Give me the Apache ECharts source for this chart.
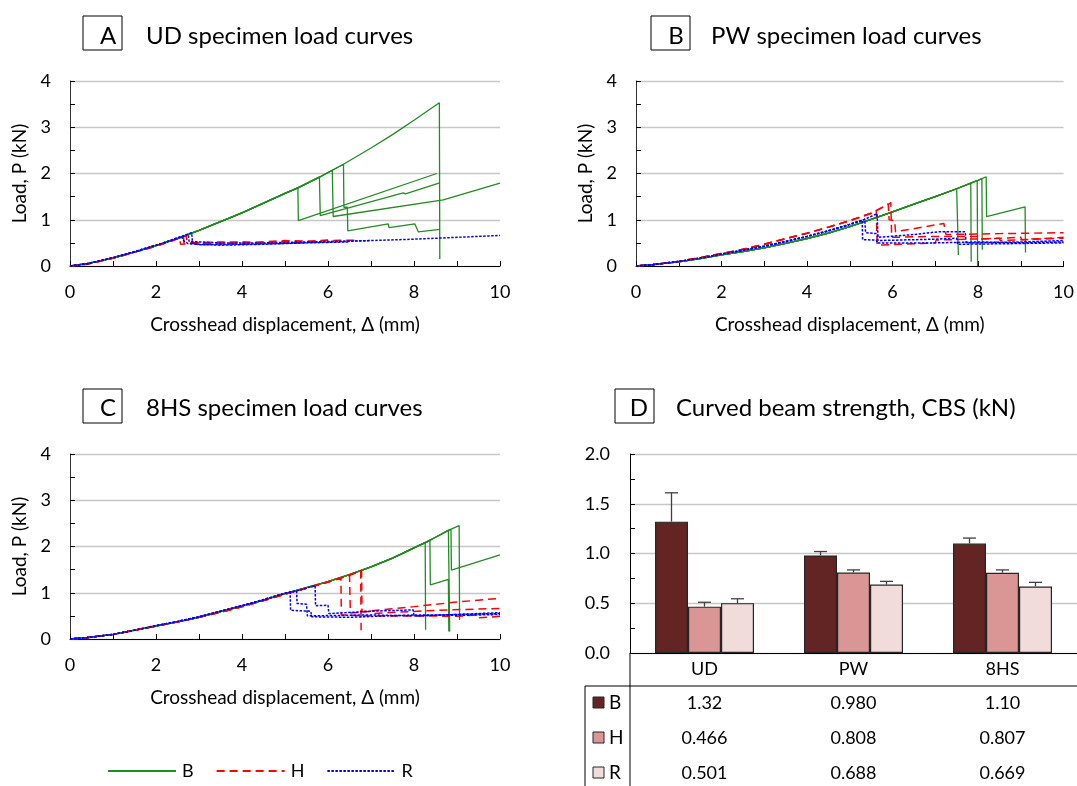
<!DOCTYPE html>
<html><head><meta charset="utf-8">
<script src="https://cdn.jsdelivr.net/npm/echarts@6/dist/echarts.min.js"></script>
<style>html,body{margin:0;padding:0;background:#fff}#c{width:1077px;height:786px}</style>
</head><body><div id="c"></div>
<script>
// ---------- Panel A (UD) ----------
const A_riseB = [[0,0],[0.4,0.05],[1,0.17],[1.5,0.3],[2,0.44],[2.5,0.59],[2.8,0.7],[3,0.77],[3.5,0.96],[4,1.15],[4.5,1.36],[5,1.57],[5.3,1.69],[5.8,1.92],[6.1,2.07],[6.36,2.2],[7,2.55],[7.5,2.84],[8,3.15],[8.59,3.53]];
const A_specB = [
  {peak:[5.3,1.69], tail:[[5.31,0.98],[8.53,2.0]]},
  {peak:[5.8,1.92], tail:[[5.82,1.09],[7.75,1.58],[7.8,1.56],[8.58,1.79]]},
  {peak:[6.1,2.07], tail:[[6.12,1.07],[8.68,1.43],[8.72,1.4],[10,1.79]]},
  {peak:[6.36,2.2], tail:[[6.37,1.27],[6.45,1.27],[6.46,0.76],[7.4,0.91],[7.42,0.83],[8.02,0.91],[8.1,0.74],[8.6,0.79]]},
  {peak:[8.59,3.53], tail:[[8.6,0.15]]}
];
const A_riseH = [[0,0],[0.4,0.04],[1,0.17],[1.5,0.3],[2,0.43],[2.3,0.52],[2.55,0.61],[2.7,0.66]];
const A_specH = [
  {peak:[2.55,0.61], tail:[[2.57,0.47],[3,0.5],[3.5,0.49],[4,0.52],[4.5,0.5],[5,0.53],[5.5,0.52],[6,0.55],[6.7,0.56]]},
  {peak:[2.7,0.66], tail:[[2.72,0.55],[2.8,0.5],[3.5,0.52],[4.2,0.51],[5,0.55],[5.6,0.54],[6.0,0.56]]},
  {peak:[2.64,0.64], tail:[[2.65,0.5],[3.2,0.48],[4,0.49],[5,0.5],[5.5,0.51]]}
];
const A_riseR = [[0,0],[0.4,0.05],[1,0.18],[1.5,0.31],[2,0.45],[2.3,0.54],[2.6,0.64],[2.83,0.72]];
const A_specR = [
  {peak:[2.83,0.72], tail:[[2.85,0.49],[3,0.46],[4,0.47],[5,0.49],[6,0.52],[7,0.55],[8,0.58],[9,0.62],[10,0.66]]},
  {peak:[2.6,0.64], tail:[[2.62,0.56],[2.75,0.48],[3.5,0.45],[4.5,0.47],[5.5,0.5],[6.5,0.52]]},
  {peak:[2.75,0.69], tail:[[2.77,0.53],[3.5,0.5],[4.5,0.5],[5.5,0.52],[7,0.55]]}
];
// ---------- Panel B (PW) ----------
const B_riseB = [[0,0],[0.4,0.03],[1,0.09],[1.5,0.16],[2,0.24],[2.5,0.31],[3,0.39],[3.5,0.49],[4,0.59],[4.5,0.71],[5,0.85],[5.5,1.01],[6,1.17],[6.5,1.34],[7,1.5],[7.5,1.67],[8,1.85],[8.2,1.93]];
const B_specB = [
  {peak:[7.53,1.68], tail:[[7.54,0.24]]},
  {peak:[7.83,1.79], tail:[[7.84,0.09]]},
  {peak:[7.98,1.85], tail:[[7.99,0]]},
  {peak:[8.09,1.89], tail:[[8.1,0.35]]},
  {peak:[8.19,1.93], tail:[[8.2,1.07],[9.1,1.28],[9.11,0.29]]}
];
const B_riseH = [[0,0],[0.4,0.03],[1,0.1],[1.5,0.18],[2,0.27],[2.5,0.36],[3,0.47],[3.5,0.59],[4,0.71],[4.5,0.84],[5,0.98],[5.5,1.14],[5.9,1.33]];
const B_specH = [
  {peak:[5.9,1.34], tail:[[5.92,1.0],[6.05,0.98],[6.07,0.74],[7.2,0.92],[7.25,0.68],[8.5,0.7],[10,0.72]]},
  {peak:[5.62,1.2], tail:[[5.64,0.45],[7,0.5],[7.02,0.56],[8.5,0.6],[8.52,0.55],[10,0.6]]},
  {peak:[5.96,1.37], tail:[[5.98,0.62],[7,0.64],[7.02,0.6],[8,0.64],[8.02,0.58],[9,0.62],[9.02,0.57],[10,0.62]]}
];
const B_riseR = [[0,0],[0.4,0.03],[1,0.1],[1.5,0.17],[2,0.26],[2.5,0.34],[3,0.43],[3.5,0.53],[4,0.64],[4.5,0.76],[5,0.9],[5.3,0.99],[5.64,1.13]];
const B_specR = [
  {peak:[5.29,0.99], tail:[[5.3,0.57],[5.62,0.56],[5.64,0.5],[7,0.5],[8,0.52],[9,0.5],[10,0.52]]},
  {peak:[5.64,1.13], tail:[[5.66,0.62],[6.5,0.68],[7.07,0.74],[7.7,0.74],[7.72,0.5],[9,0.52],[10,0.55]]},
  {peak:[5.35,1.01], tail:[[5.37,0.72],[5.64,0.7],[5.66,0.55],[7,0.58],[7.5,0.6],[7.52,0.47],[8.5,0.48],[10,0.5]]}
];
// ---------- Panel C (8HS) ----------
const C_riseB = [[0,0],[0.4,0.03],[1,0.1],[1.5,0.19],[2,0.28],[2.5,0.37],[3,0.47],[3.5,0.59],[4,0.71],[4.5,0.84],[5,0.98],[5.5,1.11],[6,1.24],[6.5,1.39],[7,1.56],[7.5,1.75],[8,1.97],[8.3,2.1],[8.5,2.2],[8.8,2.35],[9.05,2.45]];
const C_specB = [
  {peak:[8.26,2.09], tail:[[8.27,0.2]]},
  {peak:[8.37,2.14], tail:[[8.38,1.17],[8.8,1.29],[8.81,0.16]]},
  {peak:[8.86,2.37], tail:[[8.87,1.49],[10,1.82]]},
  {peak:[8.82,2.35], tail:[[8.83,0.16]]},
  {peak:[9.05,2.45], tail:[[9.06,0.41]]}
];
const C_riseH = [[0,0],[0.4,0.03],[1,0.1],[1.5,0.19],[2,0.28],[2.5,0.37],[3,0.47],[3.5,0.58],[4,0.7],[4.5,0.83],[5,0.97],[5.5,1.1],[6,1.23],[6.5,1.38],[6.78,1.48]];
const C_specH = [
  {peak:[6.3,1.32], tail:[[6.31,0.52],[7,0.5],[8,0.5],[9,0.49],[9.5,0.52],[9.52,0.46],[10,0.49]]},
  {peak:[6.51,1.39], tail:[[6.52,0.56],[7,0.6],[7.02,0.55],[8.5,0.62],[10,0.66]]},
  {peak:[6.78,1.48], tail:[[6.79,0.59],[8,0.7],[9,0.8],[10,0.88]]},
  {peak:[6.76,1.47], tail:[[6.77,0.19]]}
];
const C_riseR = [[0,0],[0.4,0.03],[1,0.1],[1.5,0.19],[2,0.29],[2.5,0.38],[3,0.48],[3.5,0.6],[4,0.72],[4.5,0.85],[5,0.99],[5.27,1.04],[5.5,1.1],[5.7,1.16]];
const C_specR = [
  {peak:[5.27,1.04], tail:[[5.28,0.77],[5.5,0.75],[5.52,0.5],[7,0.52],[8,0.5],[9,0.53],[10,0.55]]},
  {peak:[5.7,1.16], tail:[[5.71,0.72],[6.0,0.73],[6.02,0.55],[7,0.6],[7.98,0.63],[8.0,0.5],[9,0.53],[10,0.57]]},
  {peak:[5.12,1.0], tail:[[5.13,0.62],[5.6,0.6],[5.62,0.48],[6.5,0.47],[8,0.52],[9,0.51],[10,0.53]]}
];
// ---------- Panel D (CBS) ----------
const cats = ['UD','PW','8HS'];
const cbsB = [1.32, 0.980, 1.10];
const cbsH = [0.466, 0.808, 0.807];
const cbsR = [0.501, 0.688, 0.669];
const errTopB = [1.61, 1.02, 1.155];
const errTopH = [0.51, 0.835, 0.835];
const errTopR = [0.545, 0.72, 0.71];
const xTicksLabel = [0,2,4,6,8,10];

const FONT = 'Lato';
const COL = {B:'#228B22', H:'#FF0000', R:'#0000FF'};
const STY = {
  B:{color:COL.B, width:1.3, type:'solid'},
  H:{color:COL.H, width:1.5, type:[8,5]},
  R:{color:COL.R, width:1.5, type:[2.5,1.5]}
};
const barCols = {B:'#632523', H:'#D99694', R:'#F2DCDB'};

function specData(rise, s){
  return rise.filter(p => p[0] < s.peak[0]).concat([s.peak], s.tail);
}
const series = [];
function addPanel(gi, groups){
  ['B','H','R'].forEach(k => {
    const [rise, specs] = groups[k];
    specs.forEach(s => series.push({
      type:'line', name:k, xAxisIndex:gi, yAxisIndex:gi,
      data: specData(rise, s), symbol:'none', showSymbol:false,
      lineStyle: STY[k], itemStyle:{color:COL[k]}, animation:false, silent:true, z: k==='B'?2:(k==='H'?3:4)
    }));
  });
}
addPanel(0, {B:[A_riseB,A_specB], H:[A_riseH,A_specH], R:[A_riseR,A_specR]});
addPanel(1, {B:[B_riseB,B_specB], H:[B_riseH,B_specH], R:[B_riseR,B_specR]});
addPanel(2, {B:[C_riseB,C_specB], H:[C_riseH,C_specH], R:[C_riseR,C_specR]});

const BARW = 33;
const barSets = [['B',cbsB,errTopB,-1],['H',cbsH,errTopH,0],['R',cbsR,errTopR,1]];
barSets.forEach(([k, vals]) => series.push({
  type:'bar', name:'CBS '+k, xAxisIndex:3, yAxisIndex:3, data: vals, barWidth:BARW, barGap:'0%',
  itemStyle:{color:barCols[k], borderColor:'#262626', borderWidth:1.2}, animation:false, silent:true
}));
barSets.forEach(([k, vals, tops, off]) => series.push({
  type:'custom', name:'err '+k, xAxisIndex:3, yAxisIndex:3, animation:false, silent:true, z:5,
  data: vals.map((v,i)=>[i, v, tops[i]]),
  encode:{x:0, y:[1,2]},
  renderItem:(params, api) => {
    const i = api.value(0);
    const base = api.coord([i, api.value(1)]);
    const top = api.coord([i, api.value(2)]);
    const x = base[0] + off*BARW;
    const st = {stroke:'#404040', lineWidth:1.3};
    return {type:'group', children:[
      {type:'line', shape:{x1:x, y1:base[1], x2:x, y2:top[1]}, style:st},
      {type:'line', shape:{x1:x-6.5, y1:top[1], x2:x+6.5, y2:top[1]}, style:st}
    ]};
  }
}));

const txt = {fontFamily:FONT, fontSize:19, color:'#000'};
const num = {fontFamily:FONT, fontSize:18, color:'#000'};
const ttl = {fontFamily:FONT, fontSize:24, fontWeight:'normal', color:'#000'};
function lineX(gi){
  return {type:'value', gridIndex:gi, min:0, max:10, interval:2,
    axisLine:{show:true, onZero:false, lineStyle:{color:'#000', width:1}},
    axisTick:{show:true, inside:true, length:5, lineStyle:{color:'#000'}},
    minorTick:{show:true, splitNumber:2, length:5, lineStyle:{color:'#000'}},
    splitLine:{show:false},
    axisLabel:Object.assign({margin:17, formatter:v => xTicksLabel.includes(v)? String(v):''}, num),
    name:'Crosshead displacement, Δ (mm)', nameLocation:'middle', nameGap:49, nameTextStyle:txt};
}
function lineY(gi){
  return {type:'value', gridIndex:gi, min:0, max:4, interval:1,
    axisLine:{show:true, lineStyle:{color:'#333', width:1}},
    axisTick:{show:true, inside:true, length:5, lineStyle:{color:'#000'}},
    minorTick:{show:true, splitNumber:2, length:5, lineStyle:{color:'#000'}},
    splitLine:{show:true, lineStyle:{color:'#c6c6c6', width:1.3}},
    axisLabel:Object.assign({margin:19}, num),
    name:'Load, P (kN)', nameLocation:'middle', nameGap:41, nameRotate:90, nameTextStyle:txt};
}

const fmt3 = v => v.toPrecision(3);
const option = {
  backgroundColor:'#fff',
  animation:false,
  grid:[
    {left:70, top:81, width:430, height:185},
    {left:636, top:81, width:430, height:185},
    {left:70, top:454, width:430, height:185},
    {left:630, top:454, width:447, height:199}
  ],
  xAxis:[lineX(0), lineX(1), lineX(2),
    {type:'category', gridIndex:3, data:cats,
     axisLine:{show:true, lineStyle:{color:'#000', width:1}}, axisTick:{show:false},
     axisLabel:{margin:0, interval:0,
       formatter:(v,i) => `{c|${v}}\n{v|${fmt3(cbsB[i])}}\n{v|${fmt3(cbsH[i])}}\n{v|${fmt3(cbsR[i])}}`,
       rich:{c:{fontFamily:FONT, fontSize:18, color:'#000', lineHeight:33, align:'center'},
             v:{fontFamily:FONT, fontSize:18, color:'#000', lineHeight:35, align:'center'}}}}
  ],
  yAxis:[lineY(0), lineY(1), lineY(2),
    {type:'value', gridIndex:3, min:0, max:2, interval:0.5,
     axisLine:{show:true, lineStyle:{color:'#000', width:1}},
     axisTick:{show:true, inside:true, length:5, lineStyle:{color:'#000'}},
     minorTick:{show:true, splitNumber:2, length:5, lineStyle:{color:'#000'}},
     splitLine:{show:true, lineStyle:{color:'#c6c6c6', width:1.3}},
     axisLabel:Object.assign({margin:20, formatter:v => v.toFixed(1)}, num)}
  ],
  legend:{data:['B','H','R'], left:107, top:762, padding:0, itemWidth:68, itemHeight:14, itemGap:22,
    itemStyle:{opacity:0, borderWidth:0}, textStyle:Object.assign({padding:[0,0,0,1]}, num), selectedMode:false},
  title:[
    {text:'A', left:103, top:19, textAlign:'center', textStyle:ttl},
    {text:'UD specimen load curves', left:141, top:19, textStyle:ttl},
    {text:'B', left:671, top:19, textAlign:'center', textStyle:ttl},
    {text:'PW specimen load curves', left:706, top:19, textStyle:ttl},
    {text:'C', left:103, top:391, textAlign:'center', textStyle:ttl},
    {text:'8HS specimen load curves', left:141, top:391, textStyle:ttl},
    {text:'D', left:634, top:391, textAlign:'center', textStyle:ttl},
    {text:'Curved beam strength, CBS (kN)', left:671, top:391, textStyle:ttl}
  ],
  graphic:[
    {type:'rect', shape:{x:83, y:16, width:39, height:34}, style:{fill:'none', stroke:'#000', lineWidth:1}},
    {type:'rect', shape:{x:651, y:16, width:39, height:34}, style:{fill:'none', stroke:'#000', lineWidth:1}},
    {type:'rect', shape:{x:83, y:389, width:39, height:34}, style:{fill:'none', stroke:'#000', lineWidth:1}},
    {type:'rect', shape:{x:615, y:389, width:39, height:34}, style:{fill:'none', stroke:'#000', lineWidth:1}},
    // table lines
    {type:'line', shape:{x1:585, y1:686, x2:1077, y2:686}, style:{stroke:'#000', lineWidth:1}},
    {type:'line', shape:{x1:630, y1:653, x2:630, y2:786}, style:{stroke:'#000', lineWidth:1}},
    {type:'line', shape:{x1:585, y1:686, x2:585, y2:786}, style:{stroke:'#000', lineWidth:1}},
    // table legend keys
    {type:'rect', shape:{x:593, y:697, width:11, height:11}, style:{fill:barCols.B, stroke:'#262626', lineWidth:1}},
    {type:'rect', shape:{x:593, y:732, width:11, height:11}, style:{fill:barCols.H, stroke:'#262626', lineWidth:1}},
    {type:'rect', shape:{x:593, y:767, width:11, height:11}, style:{fill:barCols.R, stroke:'#262626', lineWidth:1}},
    {type:'text', x:609, y:703, style:{text:'B', fontFamily:FONT, fontSize:19, fill:'#000', verticalAlign:'middle'}},
    {type:'text', x:609, y:738, style:{text:'H', fontFamily:FONT, fontSize:19, fill:'#000', verticalAlign:'middle'}},
    {type:'text', x:609, y:773, style:{text:'R', fontFamily:FONT, fontSize:19, fill:'#000', verticalAlign:'middle'}}
  ],
  series
};
const chart = echarts.init(document.getElementById('c'), null, {renderer:'canvas'});
chart.setOption(option);
</script></body></html>
